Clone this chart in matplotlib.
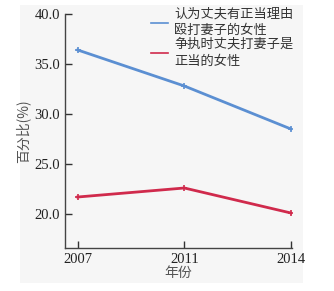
import matplotlib
matplotlib.use("Agg")
import matplotlib.pyplot as plt
from matplotlib.patches import Rectangle

years = ["2007", "2011", "2014"]
s1_name = "认为丈夫有正当理由\n殴打妻子的女性"
s2_name = "争执时丈夫打妻子是\n正当的女性"
s1 = [36.4, 32.8, 28.5]
s2 = [21.7, 22.6, 20.1]
yticks = [20.0, 25.0, 30.0, 35.0, 40.0]

cjk = ["Noto Sans CJK SC", "DejaVu Sans"]
serif = ["Liberation Serif", "DejaVu Serif"]

fig = plt.figure(figsize=(3.34, 2.91), dpi=100)
fig.patch.set_facecolor("white")
fig.patches.append(Rectangle((20/334, 1-283/291), 283/334, 278/291,
                             transform=fig.transFigure, facecolor="#f6f6f6",
                             edgecolor="none", zorder=-10))
ax = fig.add_axes([65/334, 1-248/291, (292-65)/334, (248-14)/291])
ax.set_facecolor("none")

x = list(range(len(years)))
ax.plot(x, s1, color="#5b8fd2", lw=2.0, marker="+", ms=4, mew=1.2, label=s1_name)
ax.plot(x, s2, color="#d02a4c", lw=2.0, marker="+", ms=4, mew=1.2, label=s2_name)

ax.set_xlim(-0.12, 2.01)
ax.set_ylim(16.6, 40.0)
ax.set_xticks(x)
ax.set_xticklabels(years, fontfamily=serif, fontsize=10.5)
ax.set_yticks(yticks)
ax.set_yticklabels([f"{v:.1f}" for v in yticks], fontfamily=serif, fontsize=10.5)
ax.tick_params(direction="in", length=5, width=1, color="#333333", labelcolor="#222222")
for s in ["top", "right"]:
    ax.spines[s].set_visible(False)
for s in ["left", "bottom"]:
    ax.spines[s].set_color("#444444")
    ax.spines[s].set_linewidth(1)

ax.set_ylabel("百分比(%)", fontfamily=cjk, fontsize=10, color="#555555", labelpad=3)
ax.set_xlabel("年份", fontfamily=cjk, fontsize=10, color="#555555", labelpad=0)

leg = ax.legend(loc="upper left", bbox_to_anchor=(0.35, 1.055), frameon=False,
                prop={"family": cjk, "size": 9.5}, handlelength=1.3,
                handletextpad=0.45, labelspacing=0.05, borderpad=0)
for t in leg.get_texts():
    t.set_color("#333333")
    t.set_linespacing(1.35)
for h in leg.get_lines():
    h.set_linewidth(1.2)
    h.set_marker("")

fig.savefig("out.png", dpi=100, facecolor="white")
